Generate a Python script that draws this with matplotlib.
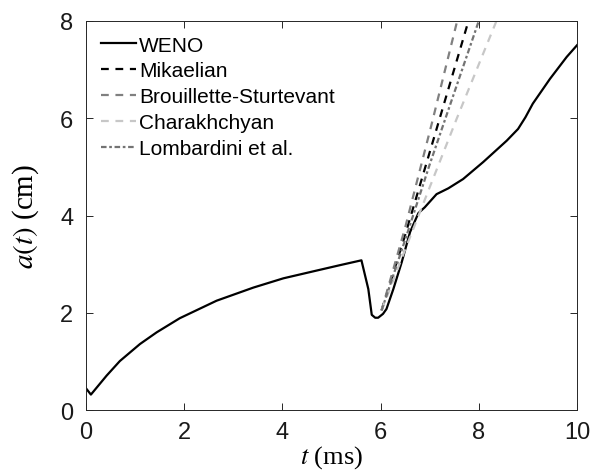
import numpy as np
import matplotlib
matplotlib.use("Agg")
import matplotlib.pyplot as plt

# WENO simulation, amplitude vs time
t_weno = [0.0, 0.10, 0.42, 0.69, 1.10, 1.44, 1.91, 2.66, 3.41, 4.02, 4.70, 5.17,
          5.61, 5.75, 5.82, 5.89, 5.95, 6.05, 6.12, 6.26, 6.43, 6.60, 6.77,
          6.90, 7.14, 7.38, 7.68, 8.09, 8.57, 8.80, 8.95, 9.10, 9.45, 9.79, 10.0]
a_weno = [0.45, 0.32, 0.71, 1.01, 1.36, 1.60, 1.89, 2.25, 2.52, 2.71, 2.87, 2.98,
          3.08, 2.49, 1.96, 1.90, 1.90, 1.98, 2.08, 2.49, 3.04, 3.66, 4.05,
          4.17, 4.44, 4.56, 4.75, 5.10, 5.54, 5.78, 6.02, 6.30, 6.81, 7.26, 7.50]

# growth models
t_mik = [6.02, 6.5, 7.0, 7.79]
a_mik = [2.05, 3.6, 5.3, 8.0]
t_bs = [6.02, 6.5, 7.04, 7.56]
a_bs = [2.05, 3.75, 5.88, 8.0]
t_cha = [6.02, 6.5, 7.55, 8.36]
a_cha = [2.05, 3.3, 5.99, 8.0]
t_lom = [6.02, 6.5, 7.0, 8.0]
a_lom = [2.05, 3.5, 5.05, 8.0]

plt.rcParams['font.family'] = "sans-serif"
plt.rcParams['font.sans-serif'] = ["Liberation Sans", "DejaVu Sans"]
plt.rcParams['mathtext.fontset'] = "stix"
plt.rcParams['xtick.direction'] = "in"
plt.rcParams['ytick.direction'] = "in"

fig = plt.figure(figsize=(5.93, 4.77), dpi=100)
ax = fig.add_axes([0.145, 0.138, 0.828, 0.816])

ax.plot(t_weno, a_weno, color="black", lw=1.6, label="WENO")
ax.plot(t_mik, a_mik, color="black", lw=1.6, ls=(0, (3.5, 3)), label="Mikaelian")
ax.plot(t_bs, a_bs, color="0.5", lw=1.6, ls=(0, (3.5, 3)),
        label="Brouillette-Sturtevant")
ax.plot(t_cha, a_cha, color="0.78", lw=1.6, ls=(0, (3.5, 3)), label="Charakhchyan")
ax.plot(t_lom, a_lom, color="0.45", lw=1.6, ls=(0, (2.5, 1.2, 1.2, 1.2)),
        label="Lombardini et al.")

ax.set_xlim(0, 10)
ax.set_ylim(0, 8)
ax.set_xticks(np.arange(0, 11, 2))
ax.set_yticks(np.arange(0, 9, 2))
ax.tick_params(labelsize=17, length=5, width=0.7, colors="0.15",
               top=True, right=True)
ax.tick_params(axis="x", pad=8)
ax.tick_params(axis="y", pad=9)
ax.tick_params(labelcolor="0.1")
for s in ax.spines.values():
    s.set_color("0.15")
    s.set_linewidth(0.7)

ax.set_xlabel(r"$t$ (ms)", fontsize=19, family="Liberation Serif", labelpad=0)
ax.set_ylabel(r"$a(t)$ (cm)", fontsize=21, family="Liberation Serif", labelpad=14)

ax.legend(loc="upper left", frameon=False, fontsize=15, handlelength=1.7,
          handletextpad=0.15, labelspacing=0.33, borderaxespad=0.3,
          borderpad=0.4)

fig.savefig("out.png", dpi=100)
